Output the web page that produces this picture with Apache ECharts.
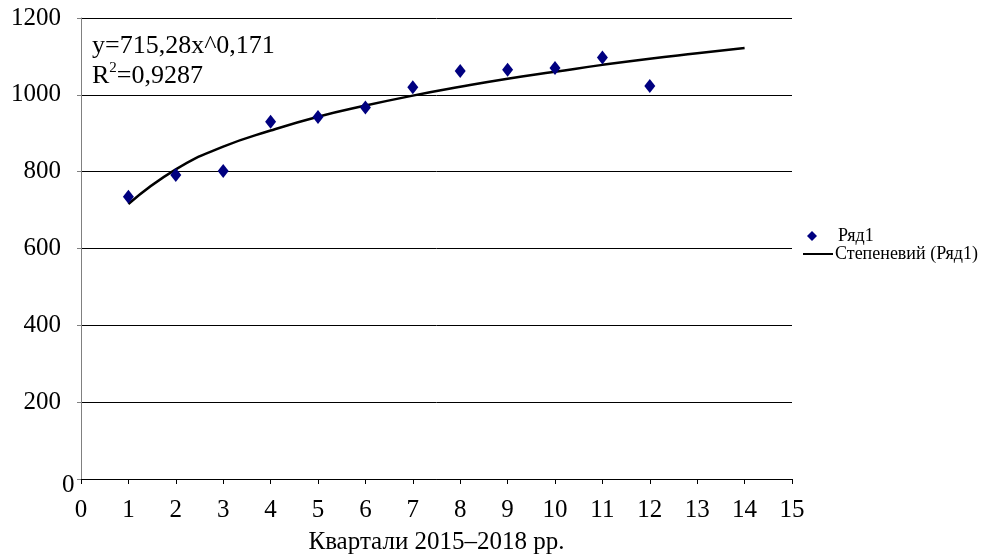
<!DOCTYPE html>
<html>
<head>
<meta charset="utf-8">
<script src="https://cdn.jsdelivr.net/npm/echarts@6/dist/echarts.min.js"></script>
<style>
html,body{margin:0;padding:0;background:#fff;}
#c{width:1001px;height:558px;}
</style>
</head>
<body>
<div id="c"></div>
<script>
// Data
const quarters = [1, 2, 3, 4, 5, 6, 7, 8, 9, 10, 11, 12];
const values = [735, 791, 802, 930, 942, 967, 1020, 1062, 1065, 1070, 1097, 1023];
const trendX = [1, 2, 3, 4, 5, 6, 7, 8, 9, 10, 11, 12, 13, 14];
const trendY = [716, 806, 865, 907, 943, 972, 998, 1021, 1042, 1060, 1078, 1094, 1108, 1122];
const yTicks = [0, 200, 400, 600, 800, 1000, 1200];
const xTicks = [0, 1, 2, 3, 4, 5, 6, 7, 8, 9, 10, 11, 12, 13, 14, 15];
const seriesName = 'Ряд1';
const trendName = 'Степеневий (Ряд1)';
const xTitle = 'Квартали 2015–2018 рр.';
const eqLine1 = 'y=715,28x^0,171';
const eqLine2 = 'R{sup|2}=0,9287';

const FONT = '"Liberation Serif", "Times New Roman", serif';
const chart = echarts.init(document.getElementById('c'), null, {renderer: 'canvas'});

chart.setOption({
  animation: false,
  backgroundColor: '#fff',
  textStyle: {fontFamily: FONT, color: '#000'},
  grid: {left: 81, right: 209, top: 18, bottom: 79, containLabel: false, outerBoundsMode: 'none'},
  xAxis: {
    type: 'value',
    min: xTicks[0], max: xTicks[xTicks.length - 1], interval: 1,
    name: xTitle, nameLocation: 'middle', nameGap: 51,
    nameTextStyle: {fontFamily: FONT, fontSize: 25, color: '#000'},
    axisLine: {show: true, onZero: false, lineStyle: {color: '#000', width: 1}},
    axisTick: {show: true, length: 5, inside: false, lineStyle: {color: '#000'}},
    axisLabel: {fontFamily: FONT, fontSize: 25, color: '#000', margin: 19},
    splitLine: {show: false}
  },
  yAxis: {
    type: 'value',
    min: yTicks[0], max: yTicks[yTicks.length - 1], interval: 200,
    axisLine: {show: true, lineStyle: {color: '#808080', width: 1}},
    axisTick: {show: true, length: 4, lineStyle: {color: '#808080'}},
    axisLabel: {
      fontFamily: FONT, fontSize: 25, color: '#000', margin: 20,
      formatter: function (v) { return v === 0 ? '' : String(v); }
    },
    splitLine: {show: true, lineStyle: {color: '#000', width: 1}}
  },
  legend: [
    {
      orient: 'vertical', left: 802, top: 222,
      itemWidth: 10, itemHeight: 10,
      textStyle: {fontFamily: FONT, fontSize: 18, color: '#000', padding: [0, 0, 0, 16]},
      data: [{name: seriesName, icon: 'diamond', itemStyle: {color: '#000080'}}]
    },
    {
      orient: 'vertical', left: 798, top: 240,
      itemWidth: 30, itemHeight: 2,
      textStyle: {fontFamily: FONT, fontSize: 18, color: '#000', padding: [0, 0, 0, -3]},
      data: [{name: trendName, icon: 'rect', itemStyle: {color: '#000'}}]
    }
  ],
  graphic: [{
    type: 'text', left: 92, top: 31,
    style: {
      text: eqLine1 + '\n' + eqLine2,
      font: '26px ' + FONT, fill: '#000', lineHeight: 30,
      rich: {sup: {fontSize: 15, verticalAlign: 'top', padding: [0, 0, 10, 0], fontFamily: FONT, fill: '#000'}}
    }
  }, {
    type: 'text', left: 62, top: 473,
    style: {text: String(yTicks[0]), font: '25px ' + FONT, fill: '#000'}
  }],
  series: [
    {
      name: seriesName, type: 'scatter',
      symbol: 'diamond', symbolSize: [11, 14],
      itemStyle: {color: '#000080', opacity: 1},
      data: quarters.map((q, i) => [q, values[i]]),
      z: 3
    },
    {
      name: trendName, type: 'line',
      smooth: true, showSymbol: false, symbol: 'none',
      lineStyle: {color: '#000', width: 2.5},
      itemStyle: {color: '#000'},
      data: trendX.map((x, i) => [x, trendY[i]]),
      z: 2
    }
  ]
});
</script>
</body>
</html>
